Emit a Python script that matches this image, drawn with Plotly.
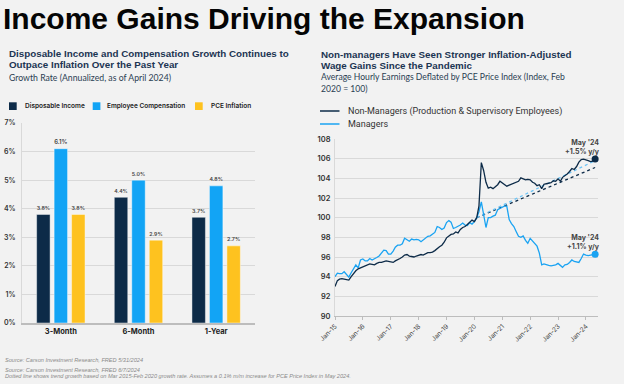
import pandas as pd
import plotly.graph_objects as go

W, H = 624, 384
BG = "#f2f2f2"
NAVY = "#0d2b48"
BLUE = "#12a4f5"
YELLOW = "#fec21f"
MGR = "#1aa3f2"

# ---------------- data: bar chart ----------------
periods = ["3-Month", "6-Month", "1-Year"]
disposable_income = [3.8, 4.4, 3.7]
employee_comp = [6.1, 5.0, 4.8]
pce_inflation = [3.8, 2.9, 2.7]

# ---------------- data: line chart (monthly, Jan 2015 - May 2024) ----------------
start_month = "2015-01-01"
non_managers = [
    93.0, 93.6, 93.75, 93.8, 93.75, 93.7, 93.65, 94.0, 94.35, 94.6, 94.8, 94.9,
    95.0, 95.1, 95.25, 95.3, 95.25, 95.2, 95.35, 95.45, 95.45, 95.5, 95.6, 95.55,
    95.5, 95.45, 95.6, 95.7, 95.85, 96.0, 96.2, 96.25, 96.1, 96.05, 96.0, 96.1,
    96.2, 96.25, 96.2, 96.3, 96.45, 96.45, 96.5, 96.65, 96.9, 97.05, 97.2, 97.5,
    97.95, 98.1, 98.3, 98.35, 98.55, 98.45, 98.8, 99.0, 99.1, 99.3, 99.5, 99.75,
    99.6, 100.0, 101.2, 105.6, 104.8, 103.6, 103.0, 103.1, 102.95, 103.15, 103.35, 103.7,
    103.5, 103.3, 103.2, 103.3, 103.4, 103.45, 103.55, 103.7, 104.05, 103.95, 103.85, 103.9,
    103.85, 103.6, 103.5, 103.25, 103.35, 102.95, 103.4, 103.45, 103.5, 103.55, 103.75, 103.7,
    103.95, 103.7, 104.1, 104.25, 104.45, 104.7, 105.0, 104.9, 105.2, 105.65, 105.9, 105.95,
    105.9, 105.8, 105.7, 105.75, 105.97,
]
managers = [
    94.0, 94.35, 94.3, 94.3, 94.5, 94.2, 93.95, 94.4, 94.75, 95.2, 94.9, 95.7,
    95.8, 95.6, 95.6, 95.85, 95.7, 95.8, 95.95, 96.1, 96.45, 96.7, 96.65, 96.3,
    96.3, 96.6, 97.0, 97.2, 97.2, 97.35, 97.9, 97.7, 97.6, 97.83, 97.75, 97.8,
    97.75, 97.55, 97.7, 97.9, 98.1, 98.15, 98.3, 98.5, 99.1, 99.0, 98.8, 98.95,
    99.5, 99.7, 99.55, 98.9, 99.0, 99.1, 99.25, 99.45, 99.25, 99.2, 99.5, 99.35,
    99.6, 100.0, 100.6, 101.6, 100.3, 99.0, 100.0, 100.0, 100.15, 100.25, 100.8, 100.95,
    101.05, 101.2, 101.15, 99.8, 99.4, 99.1, 98.6, 98.1, 98.0, 98.15, 97.7, 97.4,
    97.9, 97.6, 97.35, 97.1, 96.4, 95.2, 95.3, 95.2, 95.15, 95.1, 95.15, 95.2,
    95.35, 95.1, 94.95, 95.2, 95.25, 95.45, 95.7, 95.55, 95.5, 95.45, 95.85, 96.3,
    96.2, 96.15, 96.2, 96.25, 96.27,
]
dates = pd.date_range(start_month, periods=len(non_managers), freq="MS")

trend_dates = ["2020-02-01", "2024-05-01"]
trend_non_managers = [100.0, 105.1]
trend_managers = [100.0, 105.8]

last_labels = {"nm": "May '24<br>+1.5% y/y", "m": "May '24<br>+1.1% y/y"}


def px_x(x):
    return x / W


def px_y(y):
    return 1 - y / H


fig = go.Figure()

# bars
bar_common = dict(
    xaxis="x", yaxis="y",
    textposition="outside",
    texttemplate="%{y:.1f}%",
    textfont=dict(family="Inter", size=6.5, color="#444444", weight=600),
    cliponaxis=False,
    marker_line=dict(color="rgba(255,255,255,0.55)", width=0.8),
    showlegend=False,
)
fig.add_trace(go.Bar(x=periods, y=disposable_income, marker_color=NAVY, name="Disposable Income", **bar_common))
fig.add_trace(go.Bar(x=periods, y=employee_comp, marker_color=BLUE, name="Employee Compensation", **bar_common))
fig.add_trace(go.Bar(x=periods, y=pce_inflation, marker_color=YELLOW, name="PCE Inflation", **bar_common))

# lines
fig.add_trace(go.Scatter(x=trend_dates, y=trend_non_managers, xaxis="x2", yaxis="y2", mode="lines",
                         line=dict(color=NAVY, width=1.3, dash="dot"), showlegend=False, hoverinfo="skip"))
fig.add_trace(go.Scatter(x=trend_dates, y=trend_managers, xaxis="x2", yaxis="y2", mode="lines",
                         line=dict(color="#6cc4f7", width=1.3, dash="dot"), showlegend=False, hoverinfo="skip"))
fig.add_trace(go.Scatter(x=dates, y=managers, xaxis="x2", yaxis="y2", mode="lines",
                         line=dict(color=MGR, width=1.3), name="Managers", showlegend=False))
fig.add_trace(go.Scatter(x=dates, y=non_managers, xaxis="x2", yaxis="y2", mode="lines",
                         line=dict(color=NAVY, width=1.3), name="Non-Managers", showlegend=False))
fig.add_trace(go.Scatter(x=[dates[-1]], y=[non_managers[-1]], xaxis="x2", yaxis="y2", mode="markers",
                         marker=dict(color=NAVY, size=7), showlegend=False, cliponaxis=False))
fig.add_trace(go.Scatter(x=[dates[-1]], y=[managers[-1]], xaxis="x2", yaxis="y2", mode="markers",
                         marker=dict(color=MGR, size=7), showlegend=False, cliponaxis=False))

tick_font = dict(family="Inter", size=7, color="#333333", weight=600)

fig.update_layout(
    width=W, height=H,
    margin=dict(l=0, r=0, t=0, b=0, pad=0),
    paper_bgcolor=BG, plot_bgcolor=BG,
    barmode="group", bargap=0.325, bargroupgap=0.23,
    xaxis=dict(domain=[px_x(22), px_x(255)], showgrid=False, showline=True, linecolor="#bdbdbd", linewidth=1.5,
               tickfont=dict(family="Inter", size=7.5, color="#222222", weight=700), ticks="", fixedrange=True,
               automargin=False),
    yaxis=dict(domain=[px_y(323), px_y(123)], range=[0, 7], dtick=1, ticksuffix="%",
               showgrid=True, gridcolor="#d9d9d9", gridwidth=1, zeroline=False,
               showline=True, linecolor="#d9d9d9", linewidth=1, tickfont=tick_font, ticklabelstandoff=4,
               automargin=False),
    xaxis2=dict(domain=[px_x(335), px_x(597.5)], type="date", range=["2015-01-01", "2024-06-01"],
                dtick="M12", tick0="2015-01-01", tickformat="%b-%y", tickangle=-45,
                showgrid=False, showline=True, linecolor="#bdbdbd", linewidth=1,
                ticks="outside", ticklen=3, tickcolor="#bdbdbd",
                tickfont=dict(family="Inter", size=6.5, color="#444444"), anchor="y2", automargin=False),
    yaxis2=dict(domain=[px_y(316), px_y(139)], range=[90, 108], dtick=2,
                showgrid=True, gridcolor="#d9d9d9", gridwidth=1, zeroline=False,
                showline=True, linecolor="#d9d9d9", linewidth=1,
                tickfont=dict(family="Inter", size=7.5, color="#333333", weight=600),
                anchor="x2", ticklabelstandoff=2, automargin=False),
)

ann = []


def text(x, y, s, size, color, family, xanchor="left", weight=None, style=None):
    f = dict(family=family, size=size, color=color)
    if weight:
        f["weight"] = weight
    if style:
        f["style"] = style
    ann.append(dict(x=px_x(x), y=px_y(y), xref="paper", yref="paper", text=s, showarrow=False,
                    xanchor=xanchor, yanchor="middle", font=f, align=xanchor))


# main title
text(1, 18, "Income Gains Driving the Expansion", 30, "#050505", "Liberation Sans", weight=700)

# left header
SUB = "#1c3552"
text(7, 53, "Disposable Income and Compensation Growth Continues to", 9.8, SUB, "Liberation Sans", weight=700)
text(7, 64.5, "Outpace Inflation Over the Past Year", 9.8, SUB, "Liberation Sans", weight=700)
text(7, 77, "Growth Rate (Annualized, as of April 2024)", 8.7, "#2b3e52", "Lato")

# right header
text(319, 54, "Non-managers Have Seen Stronger Inflation-Adjusted", 9.8, SUB, "Liberation Sans", weight=700)
text(319, 65.5, "Wage Gains Since the Pandemic", 9.8, SUB, "Liberation Sans", weight=700)
text(319, 77.5, "Average Hourly Earnings Deflated by PCE Price Index (Index, Feb", 8.6, "#2b3e52", "Lato")
text(319, 88.5, "2020 = 100)", 8.6, "#2b3e52", "Lato")

# left legend
shapes = []
leg_items = [(9, NAVY, "Disposable Income", 22.5), (92.7, BLUE, "Employee Compensation", 105), (195, YELLOW, "PCE Inflation", 208.5)]
for sx, col, lab, tx in leg_items:
    shapes.append(dict(type="rect", xref="paper", yref="paper", x0=px_x(sx), x1=px_x(sx + 7.7),
                       y0=px_y(110), y1=px_y(102.3), fillcolor=col, line=dict(width=0)))
    text(tx, 106.3, lab, 6.5, "#222222", "Inter", weight=600)

# right legend
for yy, col, lab in [(111, NAVY, "Non-Managers (Production & Supervisory Employees)"), (124, MGR, "Managers")]:
    shapes.append(dict(type="line", xref="paper", yref="paper", x0=px_x(320), x1=px_x(339.5),
                       y0=px_y(yy), y1=px_y(yy), line=dict(color=col, width=1.5)))
    text(345.5, yy, lab, 9, "#333333", "Roboto")

# end labels
text(602, 147, last_labels["nm"], 7, "#444444", "Inter", xanchor="right", weight=700)
text(602, 242, last_labels["m"], 7, "#444444", "Inter", xanchor="right", weight=700)

# footnotes
FN = "#8a8a8a"
text(2.5, 360, "Source: Carson Investment Research, FRED 5/31/2024", 5.6, FN, "Liberation Sans", style="italic")
text(2.5, 370, "Source: Carson Investment Research, FRED 6/7/2024", 5.6, FN, "Liberation Sans", style="italic")
text(2.5, 375.5, "Dotted line shows trend growth based on Mar 2015-Feb 2020 growth rate. Assumes a 0.1% m/m increase for PCE Price Index in May 2024.",
     5.6, FN, "Liberation Sans", style="italic")

fig.update_layout(annotations=ann, shapes=shapes)
fig.write_html(
    "out.html",
    config={"responsive": False, "displayModeBar": False},
    post_script="document.body.style.margin='0';document.body.style.overflow='hidden';",
)
